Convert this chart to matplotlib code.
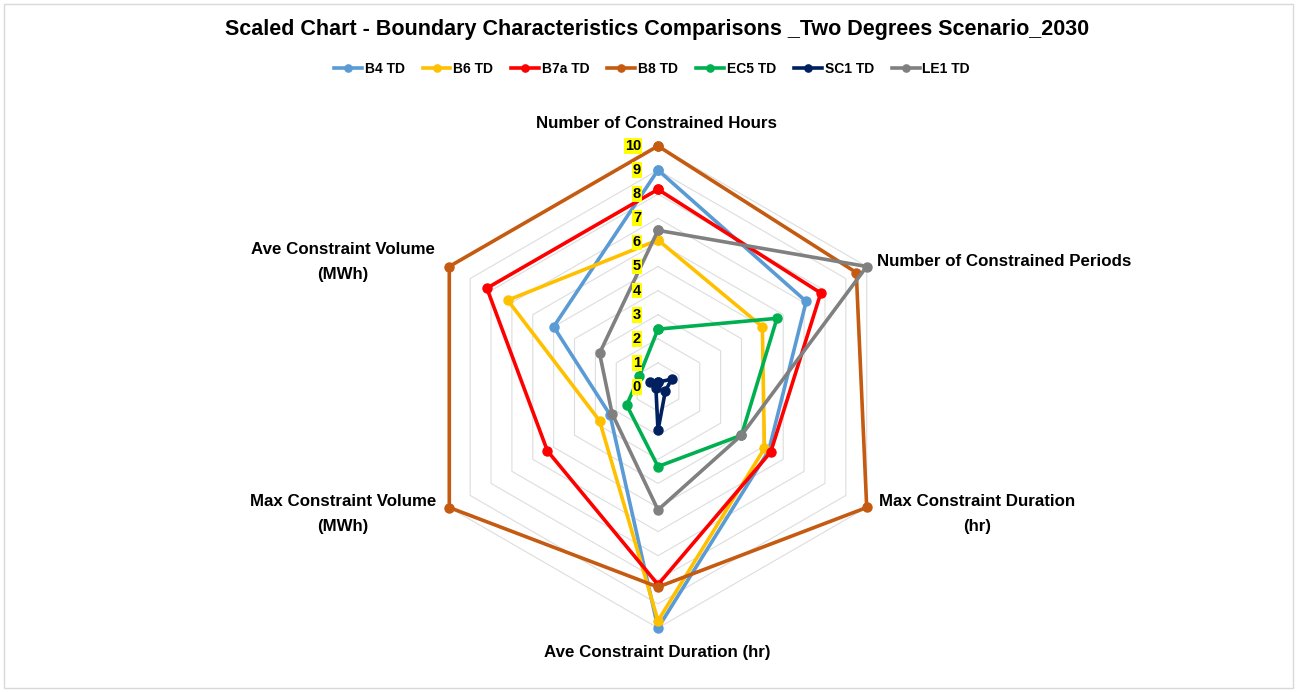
import numpy as np
import matplotlib
matplotlib.use("Agg")
import matplotlib.pyplot as plt
from matplotlib.transforms import ScaledTranslation
from matplotlib.patches import Rectangle

plt.rcParams['font.family'] = ['Liberation Sans', 'DejaVu Sans']

categories = ["Number of Constrained Hours", "Number of Constrained Periods",
              "Max Constraint Duration\n(hr)", "Ave Constraint Duration (hr)",
              "Max Constraint Volume\n(MWh)", "Ave Constraint Volume\n(MWh)"]
series_names = ["B4 TD", "B6 TD", "B7a TD", "B8 TD", "EC5 TD", "SC1 TD", "LE1 TD"]
b4 = [9.0, 7.1, 5.3, 10.0, 2.3, 5.0]
b6 = [6.1, 5.0, 5.1, 9.7, 2.8, 7.2]
b7a = [8.2, 7.8, 5.4, 8.2, 5.3, 8.2]
b8 = [10.0, 9.5, 10.0, 8.3, 10.0, 10.0]
ec5 = [2.4, 5.7, 4.0, 3.3, 1.5, 0.9]
sc1 = [0.2, 0.65, 0.35, 1.8, 0.1, 0.38]
le1 = [6.5, 10.0, 4.0, 5.1, 2.2, 2.8]
tick_values = list(range(0, 11))
title = "Scaled Chart - Boundary Characteristics Comparisons _Two Degrees Scenario_2030"

colors = ["#5B9BD5", "#FFC000", "#FF0000", "#C55A11", "#00B050", "#002060", "#808080"]
all_series = [b4, b6, b7a, b8, ec5, sc1, le1]

W, H = 1297, 692
fig = plt.figure(figsize=(W / 100, H / 100), dpi=100)
fig.patch.set_facecolor("white")

# frame border
fig.patches.append(Rectangle((4 / W, 4 / H), (W - 8) / W, (H - 8) / H, transform=fig.transFigure,
                             fill=False, edgecolor="#D9D9D9", linewidth=1.0))

cx, cy, R = 658, 387, 241
ax = fig.add_axes([(cx - R) / W, (H - cy - R) / H, 2 * R / W, 2 * R / H], polar=True)
ax.set_theta_offset(np.pi / 2)
ax.set_theta_direction(-1)
ax.set_ylim(0, 10)
ax.grid(False)
ax.spines['polar'].set_visible(False)
ax.set_xticks([])
ax.set_yticks([])
ax.patch.set_alpha(0)

n = len(categories)
angles = np.linspace(0, 2 * np.pi, n, endpoint=False)
closed_angles = np.concatenate([angles, angles[:1]])

# hexagonal gridlines
for v in tick_values[1:]:
    ax.plot(closed_angles, [v] * (n + 1), color="#DDDDDD", linewidth=0.8, zorder=1, clip_on=False)

for name, vals, col in zip(series_names, all_series, colors):
    vv = list(vals) + [vals[0]]
    ax.plot(closed_angles, vv, color=col, linewidth=2.6, marker='o', markersize=6.5,
            label=name, zorder=3, solid_joinstyle='round', clip_on=False)

# radial tick labels with yellow highlight
off = ScaledTranslation(-17 / 100, 0, fig.dpi_scale_trans)
for v in tick_values:
    ax.text(0, v, str(v), transform=ax.transData + off, ha='right', va='center',
            fontsize=10.5, fontweight='bold', color='black', zorder=5,
            bbox=dict(facecolor='#FFFF00', edgecolor='none', pad=0.6))

# category labels
label_pos = [(657, 124, 'center'), (877, 262, 'left'), (977, 514, 'center'),
             (657, 653, 'center'), (343, 514, 'center'), (343, 262, 'center')]
for lab, (x, y, ha) in zip(categories, label_pos):
    fig.text(x / W, 1 - y / H, lab, ha=ha, va='center', fontsize=12.2, fontweight='bold',
             multialignment='center', linespacing=1.75)

fig.text(657 / W, 1 - 30 / H, title, ha='center', va='center', fontsize=15.5, fontweight='bold')

leg = fig.legend(loc='center', bbox_to_anchor=(652 / W, 1 - 69 / H), ncol=7, frameon=False,
                 prop={'size': 10, 'weight': 'bold'}, handlelength=2.0, handletextpad=0.2,
                 columnspacing=1.3, markerscale=0.8)

fig.savefig("out.png", dpi=100, facecolor="white")
